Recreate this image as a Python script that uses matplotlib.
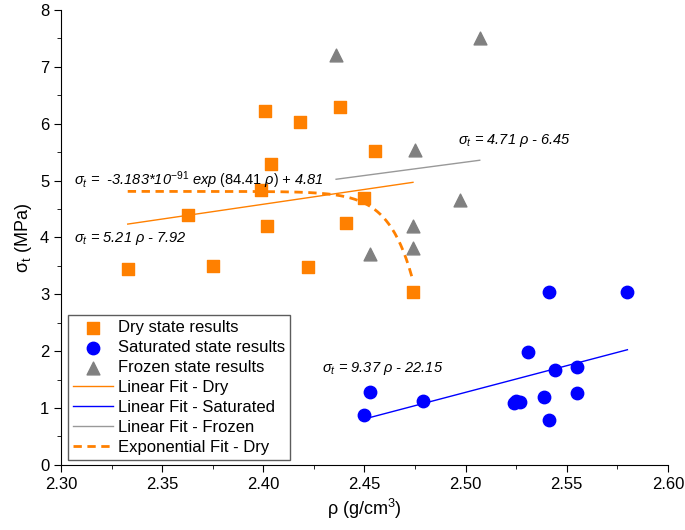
import numpy as np
import matplotlib
matplotlib.use("Agg")
import matplotlib.pyplot as plt
from matplotlib.ticker import MultipleLocator

plt.rcParams['font.family'] = ['Liberation Sans', 'DejaVu Sans']
plt.rcParams['mathtext.fontset'] = 'custom'
plt.rcParams['mathtext.rm'] = 'Liberation Sans'
plt.rcParams['mathtext.it'] = 'Liberation Sans:italic'

# dry state
dry_rho = [2.333, 2.363, 2.375, 2.401, 2.418, 2.438, 2.404, 2.399, 2.402,
           2.441, 2.450, 2.455, 2.422, 2.474]
dry_sig = [3.44, 4.39, 3.50, 6.22, 6.03, 6.29, 5.29, 4.83, 4.20,
           4.25, 4.69, 5.52, 3.48, 3.04]

# saturated state
sat_rho = [2.450, 2.453, 2.479, 2.524, 2.525, 2.527, 2.531, 2.539, 2.541,
           2.541, 2.544, 2.555, 2.555, 2.580]
sat_sig = [0.88, 1.28, 1.12, 1.08, 1.13, 1.10, 1.99, 1.20, 0.79,
           3.04, 1.67, 1.72, 1.27, 3.04]

# frozen state
frz_rho = [2.436, 2.507, 2.475, 2.497, 2.474, 2.474, 2.453]
frz_sig = [7.21, 7.50, 5.54, 4.66, 4.20, 3.81, 3.71]

# fit coefficients (slope, intercept)
fit_dry = (5.21, -7.92)
fit_sat = (9.37, -22.15)
fit_frz = (4.71, -6.45)
exp_a, exp_b, exp_c = -3.183e-91, 84.41, 4.81

orange = '#FF8000'
blue = '#0000FF'
gray = '#808080'

fig, ax = plt.subplots(figsize=(6.85, 5.3), dpi=100)
fig.subplots_adjust(left=0.089, right=0.975, bottom=0.123, top=0.981)

ax.scatter(dry_rho, dry_sig, marker='s', s=65, color=orange, label='Dry state results', zorder=3)
ax.scatter(sat_rho, sat_sig, marker='o', s=80, color=blue, label='Saturated state results', zorder=3)
ax.scatter(frz_rho, frz_sig, marker='^', s=85, color=gray, label='Frozen state results', zorder=3)

x = np.linspace(min(dry_rho), max(dry_rho), 50)
ax.plot(x, fit_dry[0] * x + fit_dry[1], color=orange, lw=1, label='Linear Fit - Dry')
x = np.linspace(min(sat_rho), max(sat_rho), 50)
ax.plot(x, fit_sat[0] * x + fit_sat[1], color=blue, lw=1, label='Linear Fit - Saturated')
x = np.linspace(min(frz_rho), max(frz_rho), 50)
ax.plot(x, fit_frz[0] * x + fit_frz[1], color='#999999', lw=1, label='Linear Fit - Frozen')
x = np.linspace(min(dry_rho), 2.4735, 200)
ax.plot(x, exp_a * np.exp(exp_b * x) + exp_c, color=orange, lw=2, ls=(0, (3, 2)),
        label='Exponential Fit - Dry')

# equations
fs = 10.5
ax.text(2.3065, 5.0, r'$\sigma_t$ =  -3.183*10$^{-91}$ exp $\left(\mathit{84.41\ \rho}\right)$ + 4.81',
        fontsize=fs, style='italic', va='center')
ax.text(2.3065, 3.98, r'$\sigma_t$ = 5.21 $\rho$ - 7.92', fontsize=fs, style='italic', va='center')
ax.text(2.4965, 5.7, r'$\sigma_t$ = 4.71 $\rho$ - 6.45', fontsize=fs, style='italic', va='center')
ax.text(2.429, 1.70, r'$\sigma_t$ = 9.37 $\rho$ - 22.15', fontsize=fs, style='italic', va='center')

ax.set_xlim(2.30, 2.60)
ax.set_ylim(0, 8)
ax.xaxis.set_major_locator(MultipleLocator(0.05))
ax.xaxis.set_minor_locator(MultipleLocator(0.025))
ax.yaxis.set_major_locator(MultipleLocator(1))
ax.yaxis.set_minor_locator(MultipleLocator(0.5))
ax.xaxis.set_major_formatter(plt.FormatStrFormatter('%.2f'))
ax.tick_params(which='major', direction='out', length=5, labelsize=12)
ax.tick_params(which='minor', direction='out', length=3)
ax.spines['top'].set_visible(False)
ax.spines['right'].set_visible(False)

ax.set_xlabel(r'ρ (g/cm$^3$)', fontsize=13)
ax.set_ylabel(r'σ$_\mathrm{t}$ (MPa)', fontsize=13)

leg = ax.legend(loc='lower left', bbox_to_anchor=(0.012, 0.01), fontsize=12, frameon=True,
                fancybox=False, edgecolor='#333333', handlelength=2.4, handletextpad=0.3,
                borderpad=0.3, labelspacing=0.3, borderaxespad=0)
leg.get_frame().set_linewidth(1)

plt.savefig('out.png', dpi=100)
